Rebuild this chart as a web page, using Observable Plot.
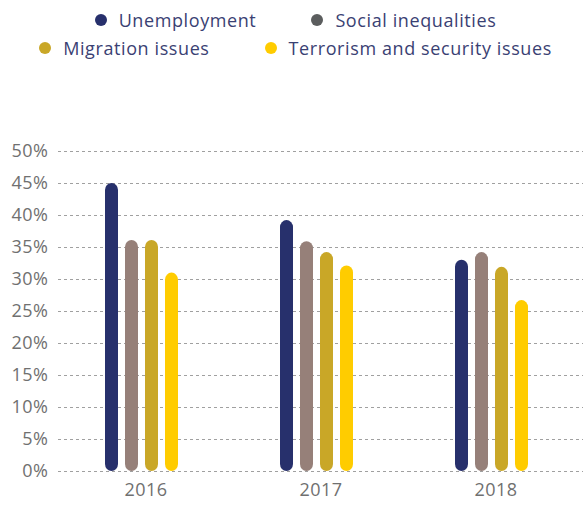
<!DOCTYPE html>
<html><head><meta charset="utf-8">
<script src="https://cdn.jsdelivr.net/npm/d3@7"></script>
<script src="https://cdn.jsdelivr.net/npm/@observablehq/plot@0.6"></script>
<style>
body{margin:0;background:#fff;font-family:"Open Sans",sans-serif;}
#legend{height:70px;box-sizing:border-box;padding-top:6px;color:#3a4173;font-size:18px;letter-spacing:0.6px}
.row{display:flex;justify-content:center;gap:55px;height:28px;align-items:center;padding-left:8px}
.item{display:flex;align-items:center;gap:12px}
.dot{width:12px;height:12px;border-radius:50%;display:inline-block}
</style></head><body>
<div id="legend"></div>
<div id="chart"></div>
<script>
const years = ["2016","2017","2018"];
const series = ["Unemployment","Social inequalities","Migration issues","Terrorism and security issues"];
const barColors = ["#27306c","#968079","#c9a727","#ffcc00"];
const legendColors = ["#27306c","#5b5d5e","#c9a727","#ffcc00"];
const unemployment = [45.0, 39.2, 33.0];
const socialInequalities = [36.1, 35.9, 34.2];
const migrationIssues = [36.1, 34.2, 31.9];
const terrorismSecurity = [31.0, 32.1, 26.7];
const yTicks = [0,5,10,15,20,25,30,35,40,45,50];

const valuesBySeries = [unemployment, socialInequalities, migrationIssues, terrorismSecurity];
const data = [];
years.forEach((y,i)=>series.forEach((s,j)=>data.push({year:y, series:s, value:valuesBySeries[j][i]})));

// legend
const leg = document.getElementById("legend");
[[0,1],[2,3]].forEach(r=>{
  const row = document.createElement("div"); row.className="row";
  r.forEach(k=>{
    const it=document.createElement("div"); it.className="item";
    it.innerHTML=`<span class="dot" style="background:${legendColors[k]}"></span><span>${series[k]}</span>`;
    row.appendChild(it);
  });
  leg.appendChild(row);
});

const chart = Plot.plot({
  width: 583, height: 436,
  marginTop: 81, marginBottom: 35, marginLeft: 57, marginRight: 0,
  style: {fontFamily: "Open Sans, sans-serif", fontSize: "18px", color: "#707070", background: "#fff", letterSpacing: "0.5px"},
  facet: {data, x: "year"},
  fx: {domain: years, padding: 0, label: null, tickSize: 0, tickPadding: 12},
  x: {domain: series, paddingInner: 0.35, paddingOuter: 2.47, align: 0.46, axis: null},
  y: {domain: [0,50], ticks: yTicks, label: null, tickSize: 0, tickPadding: 10, tickFormat: d => d + "%"},
  color: {domain: series, range: barColors},
  marks: [
    Plot.ruleY(yTicks, {stroke: "#a0a0a0", strokeDasharray: "3,3", strokeWidth: 1}),
    Plot.barY(data, {x: "series", y: "value", fill: "series", rx: 7})
  ]
});
document.getElementById("chart").appendChild(chart);
</script>
</body></html>
